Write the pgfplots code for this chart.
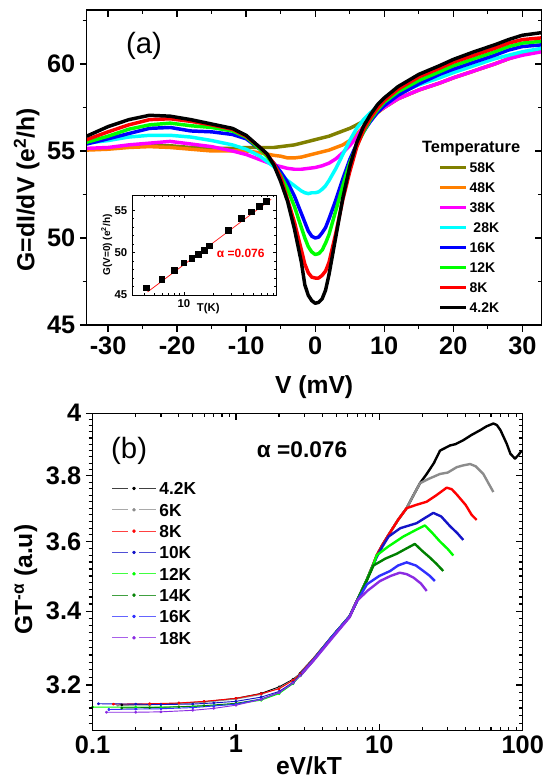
\documentclass[border=0pt]{standalone}
\usepackage{fontspec}
\setmainfont{Liberation Sans}
\usepackage{pgfplots}
\pgfplotsset{compat=1.18}

\definecolor{cOlive}{HTML}{808000}
\definecolor{cOrange}{HTML}{FF8000}
\definecolor{cMag}{HTML}{FF00FF}
\definecolor{cCyan}{HTML}{00FFFF}
\definecolor{cBlue}{HTML}{0000FF}
\definecolor{cGreen}{HTML}{00FF00}
\definecolor{cRed}{HTML}{FF0000}
\definecolor{bGray}{HTML}{8C8C8C}
\definecolor{bBlueA}{HTML}{1414C8}
\definecolor{bBlueB}{HTML}{3030FF}
\definecolor{bDkGreen}{HTML}{008000}
\definecolor{bPurple}{HTML}{8B2BE2}

\pgfplotsset{
  frameA/.style={
    scale only axis, width=341.25pt, height=236.25pt,
    at={(65pt,-243.75pt)}, anchor=south west,
    xmin=-33.1, xmax=32.8, ymin=45, ymax=63.1,
    xtick={-30,-20,...,30}, minor xtick={-25,-15,...,25},
    ytick={45,50,55,60}, minor ytick={47.5,52.5,57.5,62.5},
    axis line style={line width=1.2pt},
    major tick length=5pt, minor tick length=3pt,
    tick style={line width=1pt, black},
  },
  curveA/.style={line width=2.6pt, line join=round, no marks},
  lowB/.style={line width=0.7pt, line join=round, mark=*, mark size=0.75pt},
  highB/.style={line width=1.8pt, line join=round, no marks, forget plot},
}

\begin{document}
\begin{tikzpicture}
\path[use as bounding box] (0,0) rectangle (410.25pt,-584.25pt);

% ---------------- panel (a) ----------------
\begin{axis}[frameA,
  tick align=outside, xtick pos=left, ytick pos=left,
  xticklabels={-30,-20,-10,0,10,20,30},
  yticklabels={45,50,55,60},
  tick label style={font=\fontsize{19}{19}\selectfont\bfseries},
  xlabel={V (mV)}, ylabel={G=dI/dV (e\textsuperscript{2}/h)},
  every axis x label/.style={at={(axis description cs:0.5,-0.197)}, anchor=center,
    font=\fontsize{18.5}{18.5}\selectfont\bfseries},
  every axis y label/.style={at={(axis description cs:-0.132,0.429)}, anchor=center, rotate=90,
    font=\fontsize{18.5}{18.5}\selectfont\bfseries},
  legend style={at={(0.7727,0.516)}, anchor=north west, draw=none, fill=none,
    font=\fontsize{10.5}{10.5}\selectfont\bfseries, inner sep=0pt, row sep=7.5pt,
    nodes={inner sep=0pt, inner xsep=1.2pt, text height=7.5pt, text depth=0pt}},
  legend cell align=left,
  legend image code/.code={\draw[#1] (0pt,0pt) -- (19.5pt,0pt);},
]
\addplot[curveA, color=cOlive] coordinates {
(-33.1,55.1) (-30,55.15) (-27,55.25) (-24,55.3) (-21,55.3) (-18,55.2) (-15,55.15) (-12,55.15) (-10,55.2) (-8,55.2) (-6,55.2) (-5,55.25) (-4,55.3) (-3,55.35) (-2,55.45) (-1,55.55) (0,55.65) (1,55.75) (2,55.85) (3,56.0) (4,56.15) (5,56.3) (6,56.5) (7,56.7) (8,56.9) (9,57.2) (10,57.5) (12,58.0) (15,58.5) (18,58.9) (20,59.2) (23,59.6) (26,60.0) (28,60.3) (30,60.55) (32.8,60.8)};
\addlegendentry{58K}
\addplot[curveA, color=cOrange] coordinates {
(-33.1,55.05) (-30,55.1) (-27,55.2) (-24,55.25) (-21,55.2) (-18,55.1) (-15,55.0) (-12,55.0) (-10,55.0) (-8,54.9) (-6,54.75) (-5,54.7) (-4,54.6) (-3,54.6) (-2,54.65) (-1,54.75) (0,54.85) (1,54.95) (2,55.05) (3,55.2) (4,55.35) (5,55.6) (6,55.95) (7,56.4) (8,56.85) (9,57.2) (10,57.5) (12,58.0) (15,58.5) (18,58.9) (20,59.2) (23,59.6) (26,60.0) (28,60.3) (30,60.55) (32.8,60.8)};
\addlegendentry{48K}
\addplot[curveA, color=cMag] coordinates {
(-33.1,55.15) (-30,55.2) (-27,55.35) (-24,55.45) (-21,55.55) (-18,55.4) (-15,55.25) (-12,55.0) (-10,54.8) (-8,54.5) (-7,54.35) (-6,54.2) (-5,54.1) (-4,54.0) (-3,53.95) (-2,53.95) (-1,54.0) (0,54.05) (1,54.15) (2,54.3) (3,54.55) (4,54.9) (5,55.3) (6,55.8) (7,56.4) (8,56.9) (9,57.25) (10,57.5) (12,58.0) (15,58.5) (18,58.9) (20,59.2) (23,59.6) (26,60.0) (28,60.3) (30,60.5) (32.8,60.7)};
\addlegendentry{38K}
\addplot[curveA, color=cCyan] coordinates {
(-33.1,55.45) (-30,55.6) (-27,55.8) (-24,55.9) (-21,55.9) (-18,55.8) (-15,55.6) (-12,55.35) (-10,55.1) (-8,54.7) (-7,54.4) (-6,54.1) (-5,53.7) (-4,53.3) (-3,53.0) (-2,52.7) (-1.5,52.6) (-1,52.55) (-0.5,52.6) (0,52.6) (0.5,52.65) (1,52.8) (1.5,53.0) (2,53.3) (3,54.0) (4,54.8) (5,55.6) (6,56.3) (7,56.8) (8,57.2) (9,57.55) (10,57.85) (12,58.3) (15,58.8) (18,59.2) (20,59.5) (23,59.9) (26,60.3) (28,60.5) (30,60.7) (32.8,60.9)};
\addlegendentry{\ 28K}
\addplot[curveA, color=cBlue] coordinates {
(-33.1,55.4) (-30,55.7) (-27,56.0) (-24,56.3) (-21,56.35) (-18,56.15) (-15,56.1) (-12,55.95) (-10,55.7) (-8,55.1) (-7,54.75) (-6,54.3) (-5,53.8) (-4,53.2) (-3,52.4) (-2,51.4) (-1.5,50.9) (-1,50.4) (-0.5,50.1) (0,50.0) (0.5,50.05) (1,50.3) (1.5,50.6) (2,51.1) (3,52.2) (4,53.4) (5,54.5) (6,55.4) (7,56.1) (8,56.7) (9,57.2) (10,57.6) (12,58.2) (15,58.85) (18,59.4) (20,59.7) (23,60.1) (26,60.5) (28,60.8) (30,61.0) (32.8,61.1)};
\addlegendentry{16K}
\addplot[curveA, color=cGreen] coordinates {
(-33.1,55.5) (-30,55.85) (-27,56.25) (-24,56.5) (-21,56.6) (-18,56.45) (-15,56.35) (-12,56.15) (-10,55.8) (-8,55.1) (-7,54.7) (-6,54.2) (-5,53.6) (-4,52.8) (-3,51.8) (-2,50.6) (-1.5,50.0) (-1,49.5) (-0.5,49.2) (0,49.05) (0.5,49.1) (1,49.3) (1.5,49.7) (2,50.2) (3,51.6) (4,53.0) (5,54.3) (6,55.3) (7,56.1) (8,56.8) (9,57.35) (10,57.8) (12,58.4) (15,59.05) (18,59.55) (20,59.9) (23,60.3) (26,60.7) (28,61.0) (30,61.2) (32.8,61.3)};
\addlegendentry{12K}
\addplot[curveA, color=cRed] coordinates {
(-33.1,55.65) (-30,56.1) (-27,56.5) (-24,56.8) (-21,56.85) (-18,56.7) (-15,56.5) (-12,56.25) (-10,55.85) (-8,55.2) (-7,54.8) (-6,54.3) (-5,53.5) (-4,52.2) (-3,50.9) (-2,49.3) (-1.5,48.5) (-1,48.0) (-0.5,47.75) (0,47.7) (0.5,47.7) (1,47.85) (1.5,48.1) (2,48.6) (3,50.3) (4,52.2) (5,53.8) (6,55.2) (7,56.2) (8,56.9) (9,57.45) (10,57.9) (12,58.55) (15,59.25) (18,59.75) (20,60.1) (23,60.5) (26,60.9) (28,61.2) (30,61.4) (32.8,61.5)};
\addlegendentry{8K}
\addplot[curveA, color=black] coordinates {
(-33.1,55.85) (-30,56.4) (-27,56.8) (-24,57.05) (-21,57.0) (-18,56.8) (-15,56.55) (-12,56.3) (-10,55.9) (-8,55.2) (-7,54.85) (-6,54.2) (-5,53.25) (-4,52.1) (-3,50.5) (-2,48.6) (-1.5,47.3) (-1,46.7) (-0.5,46.4) (0,46.25) (0.5,46.3) (1,46.5) (1.5,47.0) (2,47.9) (3,50.1) (4,52.3) (5,54.1) (6,55.46) (7,56.42) (8,57.09) (9,57.65) (10,58.05) (12,58.7) (15,59.4) (18,59.9) (20,60.26) (23,60.7) (26,61.1) (28,61.4) (30,61.65) (32.8,61.8)};
\addlegendentry{4.2K}
\node[font=\fontsize{22}{22}\selectfont] at (rel axis cs:0.126,0.887) {(a)};
\node[font=\fontsize{12.3}{12.3}\selectfont\bfseries] at (rel axis cs:0.845,0.559) {Temperature};
\end{axis}

% mirrored inward ticks, top and right of (a)
\begin{axis}[frameA, tick align=inside, xtick pos=right, ytick pos=right,
  xticklabels={}, yticklabels={}]
\end{axis}

% ---------------- inset ----------------
\begin{axis}[
  scale only axis, width=108pt, height=75pt,
  at={(99pt,-221.25pt)}, anchor=south west,
  axis background/.style={fill=white},
  xmode=log, xmin=3, xmax=85, ymin=45, ymax=56.8,
  xtick={10}, xticklabels={10},
  minor xtick={3,4,5,6,7,8,9,20,30,40,50,60,70,80},
  ytick={45,50,55}, yticklabels={45,50,55}, minor y tick num=4,
  axis line style={line width=0.6pt},
  major tick length=2.5pt, minor tick length=1.5pt,
  tick style={line width=0.5pt, black},
  tick label style={font=\fontsize{8.5}{8.5}\selectfont\bfseries},
  xlabel={T(K)},
  every axis x label/.style={at={(axis description cs:0.53,-0.135)}, anchor=center,
    font=\fontsize{8.5}{8.5}\selectfont\bfseries},
  ylabel={G(V=0) (e\textsuperscript{2}/h)},
  every axis y label/.style={at={(axis description cs:-0.175,0.5)}, anchor=center, rotate=90,
    font=\fontsize{7.5}{7.5}\selectfont\bfseries},
]
\addplot[color=cRed, line width=0.5pt, no marks] coordinates {(4.3,45.36) (76,56.3)};
\addplot[only marks, mark=square*, mark size=2.1pt, color=black] coordinates {
(4.2,45.86) (6,46.88) (8,47.9) (10,48.8) (12,49.32) (14,49.82) (16,50.3) (18,50.8) (28,52.61) (38,54.02) (48,54.8) (58,55.47) (68,56.06)};
\node[font=\fontsize{9}{9}\selectfont\bfseries, text=cRed] at (rel axis cs:0.755,0.42) {α =0.076};
\end{axis}

% ---------------- panel (b) ----------------
\begin{axis}[
  scale only axis, width=322.65pt, height=238.05pt,
  at={(69.4pt,-548pt)}, anchor=south west,
  xmode=log, ymode=log,
  xmin=0.1, xmax=100, ymin=3.082, ymax=4,
  xtick={0.1,1,10,100},
  minor xtick={0.2,0.3,0.4,0.5,0.6,0.7,0.8,0.9,2,3,4,5,6,7,8,9,20,30,40,50,60,70,80,90},
  ytick={3.2,3.4,3.6,3.8,4},
  minor ytick={3.1,3.12,3.14,3.16,3.18,3.22,3.24,3.26,3.28,3.3,3.32,3.34,3.36,3.38,3.42,3.44,3.46,3.48,3.5,3.52,3.54,3.56,3.58,3.62,3.64,3.66,3.68,3.7,3.72,3.74,3.76,3.78,3.82,3.84,3.86,3.88,3.9,3.92,3.94,3.96,3.98},
  axis line style={line width=1pt},
  major tick length=5pt, minor tick length=3pt,
  tick style={line width=0.9pt, black},
  tick align=inside, xtick pos=both, ytick pos=right,
  xticklabels={0.1,1,10,100}, yticklabels={},
  tick label style={font=\fontsize{19}{19}\selectfont\bfseries},
  xlabel={eV/kT},
  every axis x label/.style={at={(axis description cs:0.503,-0.11)}, anchor=center,
    font=\fontsize{18.5}{18.5}\selectfont\bfseries},
  legend style={at={(0.0446,0.7836)}, anchor=north west, draw=none, fill=none,
    font=\fontsize{13}{13}\selectfont\bfseries, inner sep=0pt, row sep=6.6pt,
    nodes={inner sep=0pt, inner xsep=2.5pt, text height=9.4pt, text depth=0pt}},
  legend cell align=left,
  legend image code/.code={
    \draw[#1, line width=0.6pt, opacity=0.75] (0pt,0pt) -- (11.5pt,0pt);
    \draw[#1, line width=0.6pt, opacity=0.75] (20.3pt,0pt) -- (32.5pt,0pt);
    \fill[#1] (16.2pt,0pt) circle (1pt);},
]
% 4.2K
\addplot[lowB, color=black] coordinates {
(0.16,3.148) (0.25,3.149) (0.4,3.152) (0.6,3.156) (1,3.165) (1.5,3.178) (2,3.195) (2.5,3.215) (2.8,3.23)};
\addlegendentry{4.2K}
\addplot[highB, color=black] coordinates {
(2.8,3.23) (3.5,3.27) (4.7,3.33) (6.2,3.385) (7,3.43) (8.2,3.49) (9.1,3.535) (9.6,3.56) (10.5,3.59) (11.6,3.62) (13.5,3.665) (15.5,3.70) (17.3,3.74) (19.2,3.777) (21.4,3.806) (24,3.84) (26.5,3.88) (31.1,3.896) (34,3.90) (38.5,3.913) (44,3.93) (50.4,3.945) (56,3.958) (62.4,3.967) (66,3.962) (70,3.945) (77.3,3.902) (82,3.87) (88.3,3.854) (93,3.865) (98.4,3.88)};
% 6K
\addplot[lowB, color=bGray] coordinates {
(0.15,3.147) (0.25,3.148) (0.4,3.151) (0.6,3.155) (1,3.163) (1.5,3.175) (2,3.192) (2.5,3.213) (2.8,3.229)};
\addlegendentry{6K}
\addplot[highB, color=bGray] coordinates {
(2.8,3.229) (3.5,3.27) (4.7,3.33) (6.2,3.385) (7,3.43) (8.2,3.49) (9.1,3.535) (9.6,3.56) (10.5,3.59) (11.6,3.62) (13.5,3.665) (15.5,3.70) (17.3,3.74) (19.2,3.777) (22,3.79) (26.5,3.806) (30,3.81) (34.7,3.827) (38,3.832) (42.9,3.837) (47,3.83) (53.1,3.806) (58,3.775) (62.4,3.75)};
% 8K
\addplot[lowB, color=cRed] coordinates {
(0.14,3.150) (0.25,3.151) (0.4,3.153) (0.6,3.157) (1,3.165) (1.5,3.177) (2,3.19) (2.5,3.212) (2.8,3.228)};
\addlegendentry{8K}
\addplot[highB, color=cRed] coordinates {
(2.8,3.228) (3.5,3.27) (4.7,3.33) (6.2,3.385) (7,3.43) (8.2,3.49) (9.1,3.535) (9.6,3.56) (10.5,3.59) (11.6,3.62) (13.5,3.665) (15.5,3.70) (18,3.71) (21.4,3.72) (25,3.74) (29.5,3.763) (32,3.758) (34.7,3.742) (40,3.71) (44,3.68) (47.7,3.665)};
% 10K
\addplot[lowB, color=bBlueA] coordinates {
(0.11,3.151) (0.2,3.150) (0.3,3.149) (0.5,3.150) (0.7,3.153) (1,3.157) (1.5,3.168) (2,3.183) (2.5,3.207) (2.8,3.226)};
\addlegendentry{10K}
\addplot[highB, color=bBlueA] coordinates {
(2.8,3.226) (3.5,3.268) (4.7,3.33) (6.2,3.385) (7,3.43) (8.2,3.49) (9.1,3.533) (9.6,3.555) (10.5,3.585) (11.6,3.615) (14,3.64) (18.2,3.655) (21,3.672) (23.8,3.686) (27,3.675) (31.1,3.646) (35,3.625) (38.5,3.605)};
% 12K
\addplot[lowB, color=cGreen] coordinates {
(0.1,3.142) (0.2,3.142) (0.3,3.142) (0.5,3.144) (0.7,3.146) (1,3.150) (1.5,3.16) (2,3.177) (2.5,3.203) (2.8,3.224)};
\addlegendentry{12K}
\addplot[highB, color=cGreen] coordinates {
(2.8,3.224) (3.5,3.268) (4.7,3.33) (6.2,3.385) (7,3.43) (8.2,3.49) (9.1,3.533) (9.6,3.56) (11.5,3.585) (14.7,3.615) (18,3.635) (20.8,3.648) (23.5,3.625) (26.5,3.60) (30,3.578) (32.8,3.559)};
% 14K
\addplot[lowB, color=bDkGreen] coordinates {
(0.16,3.140) (0.25,3.141) (0.4,3.143) (0.6,3.146) (1,3.152) (1.5,3.163) (2,3.18) (2.5,3.205) (2.8,3.225)};
\addlegendentry{14K}
\addplot[highB, color=bDkGreen] coordinates {
(2.8,3.225) (3.5,3.268) (4.7,3.33) (6.2,3.385) (7,3.43) (8.2,3.488) (9.1,3.53) (11,3.55) (13.2,3.564) (15.5,3.58) (17.7,3.593) (20,3.572) (22.5,3.553) (25,3.535) (27.9,3.514)};
% 16K
\addplot[lowB, color=bBlueB] coordinates {
(0.13,3.136) (0.2,3.137) (0.3,3.138) (0.5,3.141) (0.7,3.145) (1,3.15) (1.5,3.163) (2,3.18) (2.5,3.205) (2.8,3.225)};
\addlegendentry{16K}
\addplot[highB, color=bBlueB] coordinates {
(2.8,3.225) (3.5,3.268) (4.7,3.33) (6.2,3.385) (7,3.428) (8.2,3.476) (10,3.50) (11.9,3.514) (13.5,3.53) (15.5,3.539) (18,3.53) (20.3,3.514) (22.5,3.50) (24.4,3.485)};
% 18K
\addplot[lowB, color=bPurple] coordinates {
(0.125,3.129) (0.2,3.129) (0.3,3.130) (0.5,3.134) (0.7,3.139) (1,3.147) (1.5,3.162) (2,3.18) (2.5,3.205) (2.8,3.224)};
\addlegendentry{18K}
\addplot[highB, color=bPurple] coordinates {
(2.8,3.224) (3.5,3.266) (4.7,3.326) (6.2,3.383) (6.95,3.428) (8.3,3.458) (10.1,3.485) (12,3.50) (13.9,3.509) (15.5,3.505) (17.3,3.495) (19.5,3.478) (21.4,3.457)};
\node[font=\fontsize{22}{22}\selectfont] at (rel axis cs:0.085,0.881) {(b)};
\node[font=\fontsize{17}{17}\selectfont\bfseries] at (rel axis cs:0.487,0.884) {α =0.076};
\end{axis}

% outward ticks and labels on the left of (b)
\begin{axis}[
  scale only axis, width=322.65pt, height=238.05pt,
  at={(69.4pt,-548pt)}, anchor=south west,
  xmode=log, ymode=log,
  xmin=0.1, xmax=100, ymin=3.082, ymax=4,
  xtick=\empty,
  ytick={3.2,3.4,3.6,3.8,4},
  minor ytick={3.1,3.12,3.14,3.16,3.18,3.22,3.24,3.26,3.28,3.3,3.32,3.34,3.36,3.38,3.42,3.44,3.46,3.48,3.5,3.52,3.54,3.56,3.58,3.62,3.64,3.66,3.68,3.7,3.72,3.74,3.76,3.78,3.82,3.84,3.86,3.88,3.9,3.92,3.94,3.96,3.98},
  axis line style={line width=1pt},
  major tick length=5pt, minor tick length=3pt,
  tick style={line width=0.9pt, black},
  tick align=outside, ytick pos=left,
  yticklabels={3.2,3.4,3.6,3.8,4},
  tick label style={font=\fontsize{19}{19}\selectfont\bfseries},
  ylabel={GT\textsuperscript{-α} (a.u)},
  every axis y label/.style={at={(axis description cs:-0.155,0.475)}, anchor=center, rotate=90,
    font=\fontsize{18.5}{18.5}\selectfont\bfseries},
]
\end{axis}
\end{tikzpicture}
\end{document}
